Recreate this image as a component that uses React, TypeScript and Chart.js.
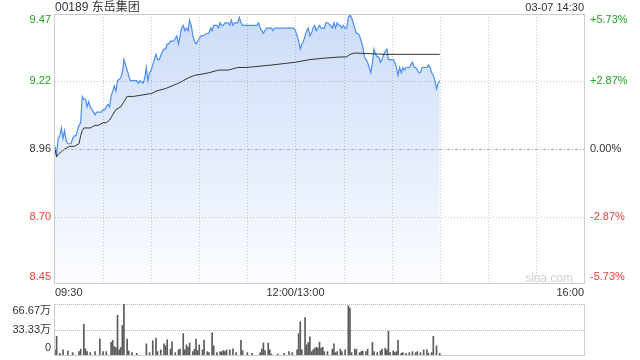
import React, { useEffect, useRef } from 'react';
import { Chart, registerables } from 'chart.js';

Chart.register(...registerables);

const TITLE = '00189 东岳集团';
const STAMP = '03-07 14:30';
const PREV_CLOSE = 8.96;
const TOTAL_MIN = 330;
const GRID_STEP_MIN = 30;

const priceMin = [0,1,2,3,4,5,6,7,8,9,10,11,12,13,15,16,17,18,19,20,21,22,23,24,25,26,28,29,30,31,32,33,34,35,36,37,38,39,41,42,43,44,45,46,47,49,51,52,53,55,56,57,58,59,60,61,62,63,64,65,67,68,69,70,71,72,73,74,75,76,77,78,79,80,81,82,83,84,85,86,87,88,89,90,91,92,95,96,97,98,99,100,101,102,103,104,105,106,107,108,109,110,111,112,113,114,115,116,117,125,126,127,128,129,130,131,132,135,136,137,149,150,151,152,153,154,155,156,157,158,159,160,161,162,163,164,165,166,167,168,169,170,172,173,174,175,176,177,178,179,180,181,182,183,184,185,186,187,188,189,190,191,192,193,194,195,196,197,198,199,200,201,202,203,204,205,206,207,208,209,210,211,212,213,214,215,216,217,218,219,220,221,222,223,224,225,226,227,228,229,230,231,232,233,234,235,236,237,238,239,240];
const priceVal = [8.97,8.94,9.00,9.01,9.04,9.00,9.03,8.99,8.98,8.98,8.98,9.00,9.01,9.01,9.05,9.06,9.16,9.15,9.15,9.12,9.14,9.12,9.11,9.10,9.09,9.10,9.10,9.10,9.11,9.11,9.12,9.13,9.12,9.16,9.18,9.20,9.18,9.22,9.23,9.25,9.30,9.28,9.26,9.24,9.22,9.22,9.22,9.21,9.22,9.21,9.23,9.27,9.22,9.25,9.26,9.28,9.30,9.32,9.30,9.30,9.33,9.34,9.34,9.36,9.36,9.37,9.37,9.37,9.38,9.39,9.36,9.39,9.42,9.43,9.41,9.42,9.41,9.45,9.43,9.39,9.37,9.36,9.37,9.38,9.39,9.39,9.40,9.40,9.42,9.41,9.43,9.43,9.43,9.42,9.44,9.43,9.43,9.44,9.44,9.44,9.43,9.45,9.43,9.44,9.44,9.44,9.46,9.44,9.43,9.43,9.43,9.44,9.42,9.41,9.40,9.41,9.42,9.42,9.41,9.42,9.42,9.41,9.39,9.37,9.34,9.36,9.37,9.39,9.41,9.42,9.39,9.40,9.42,9.43,9.41,9.42,9.43,9.42,9.42,9.42,9.44,9.44,9.43,9.42,9.44,9.42,9.44,9.43,9.43,9.42,9.43,9.42,9.42,9.46,9.47,9.46,9.44,9.42,9.40,9.40,9.39,9.37,9.35,9.31,9.30,9.29,9.27,9.25,9.29,9.34,9.32,9.31,9.31,9.29,9.30,9.32,9.33,9.34,9.30,9.30,9.30,9.30,9.29,9.27,9.24,9.27,9.25,9.27,9.26,9.27,9.27,9.27,9.28,9.29,9.27,9.27,9.26,9.25,9.25,9.27,9.27,9.27,9.27,9.28,9.27,9.25,9.24,9.22,9.19,9.21,9.22];

const avgMin = [0,1,2,4,6,9,12,15,16,17,18,22,25,27,30,32,34,36,38,41,43,45,49,59,60,63,69,73,77,80,83,87,92,96,102,108,114,119,128,136,150,159,167,178,182,184,187,206,227,240];
const avgVal = [8.96,8.93,8.94,8.95,8.96,8.97,8.97,8.98,9.01,9.03,9.04,9.04,9.05,9.05,9.06,9.06,9.07,9.09,9.11,9.12,9.14,9.16,9.16,9.17,9.17,9.18,9.19,9.20,9.21,9.22,9.23,9.24,9.245,9.25,9.26,9.26,9.27,9.27,9.275,9.28,9.29,9.30,9.305,9.31,9.31,9.32,9.325,9.32,9.32,9.32];

const volMin = [0,1,3,5,8,11,15,16,18,19,20,22,25,28,30,32,35,36,37,38,39,40,41,42,43,45,46,48,51,57,59,61,63,64,66,68,69,70,72,73,75,77,78,80,81,82,83,84,86,87,88,89,90,92,93,95,96,98,99,101,103,104,105,106,107,109,111,113,116,117,120,123,128,129,130,131,133,134,135,139,143,146,148,151,152,153,154,156,157,158,159,160,161,162,163,164,165,166,167,168,170,173,174,175,176,178,179,181,183,184,185,187,188,190,191,192,194,195,198,199,201,203,204,206,207,208,209,211,212,213,214,216,217,219,221,223,225,226,228,230,232,233,235,236,238,240];
const volVal = [6.7,24.4,2.2,6.7,5.3,3.1,4.4,7.6,40,8,4.4,3.1,4.4,21.3,4.4,4.4,16.4,19.1,11.1,9.8,52,6.7,9.8,38.7,66.7,20.9,5.3,3.1,2.2,14.7,3.1,18.7,22.2,4.4,6.7,14.7,12,20,7.6,17.3,3.1,6.7,7.6,28,6.7,13.3,10.2,15.6,4.4,7.6,20.9,5.8,13.3,6.7,19.6,4.4,3.1,28.9,12,3.1,4,4.4,5.8,4.4,6.7,6.7,8,3.1,19.1,5.8,3.1,2.2,3.1,7.6,15.6,5.8,15.6,6.7,1.3,1.3,2.2,4.4,3.1,6.7,28,43.6,6.7,48.9,13.3,16.4,23.6,4.4,6.7,8.9,10.2,8.9,16.9,8.9,10.2,4.4,4.4,7.6,14.7,3.1,4.4,7.6,4.4,6.7,64.4,61.3,3.1,7.6,7.6,3.1,4.4,5.3,4.4,7.6,16.4,4.4,3.1,5.3,7.6,8.9,6.7,31.1,3.1,5.3,3.1,4.4,19.1,2.2,3.1,2.2,3.1,4.4,3.1,4.4,3.1,6.7,6.7,2.2,3.1,24.4,12,2.2];

const pctTicks = [5.73, 2.87, 0, -2.87, -5.73];
const priceTickLabels = ['9.47', '9.22', '8.96', '8.70', '8.45'];
const pctTickLabels = ['+5.73%', '+2.87%', '0.00%', '-2.87%', '-5.73%'];
const timeTickMin = [0, 150, 330];
const timeTickLabels = ['09:30', '12:00/13:00', '16:00'];
const volTicks = [66.67, 33.33, 0];
const volTickLabels = ['66.67万', '33.33万', '0'];

const FONT = 'Arial, "Liberation Sans", sans-serif';
const GREEN = '#1fa51f';
const RED = '#f03c3c';
const DARK = '#333333';

function hline(ctx: CanvasRenderingContext2D, x1: number, x2: number, y: number) {
  const yy = Math.round(y) + 0.5;
  ctx.beginPath();
  ctx.moveTo(x1, yy);
  ctx.lineTo(x2, yy);
  ctx.stroke();
}
function vline(ctx: CanvasRenderingContext2D, x: number, y1: number, y2: number) {
  const xx = Math.round(x) + 0.5;
  ctx.beginPath();
  ctx.moveTo(xx, y1);
  ctx.lineTo(xx, y2);
  ctx.stroke();
}

const mainPlugin = {
  id: 'mainDeco',
  beforeDatasetsDraw(chart: any) {
    const { ctx, chartArea: a } = chart;
    const xs = chart.scales.x;
    const ys = chart.scales.y;
    ctx.save();
    ctx.lineWidth = 1;
    ctx.strokeStyle = '#c8c8c8';
    ctx.setLineDash([1, 2]);
    for (let m = GRID_STEP_MIN; m < TOTAL_MIN; m += GRID_STEP_MIN) {
      vline(ctx, xs.getPixelForValue(m), a.top, a.bottom);
    }
    pctTicks.forEach((p) => {
      if (Math.abs(p) === 5.73 || p === 0) return;
      hline(ctx, a.left, a.right, ys.getPixelForValue(PREV_CLOSE * (1 + p / 100)));
    });
    ctx.restore();
  },
  afterDatasetsDraw(chart: any) {
    const { ctx, chartArea: a } = chart;
    const ys = chart.scales.y;
    ctx.save();
    ctx.lineWidth = 1;
    ctx.strokeStyle = '#aaaaaa';
    ctx.setLineDash([3, 2, 1, 2]);
    hline(ctx, a.left, a.right, ys.getPixelForValue(PREV_CLOSE));
    ctx.setLineDash([]);
    ctx.strokeStyle = '#cccccc';
    ctx.strokeRect(Math.round(a.left) - 0.5, Math.round(a.top) + 0.5, Math.round(a.right - a.left) + 1, Math.round(a.bottom - a.top) - 1);
    ctx.restore();
  },
  afterDraw(chart: any) {
    const { ctx, chartArea: a } = chart;
    const xs = chart.scales.x;
    const ys = chart.scales.y;
    ctx.save();
    ctx.font = '12px ' + '"Liberation Sans", Arial, "Noto Sans CJK SC", sans-serif';
    ctx.fillStyle = DARK;
    ctx.textBaseline = 'middle';
    ctx.textAlign = 'left';
    ctx.fillText(TITLE, a.left, 7.5);
    ctx.font = '11px ' + FONT;
    ctx.textAlign = 'right';
    ctx.fillText(STAMP, a.right, 7.5);

    pctTicks.forEach((p, i) => {
      let y = ys.getPixelForValue(PREV_CLOSE * (1 + p / 100));
      if (i === 0) y += 6;
      if (i === pctTicks.length - 1) y -= 7;
      ctx.fillStyle = p > 0 ? GREEN : p < 0 ? RED : DARK;
      ctx.textAlign = 'right';
      ctx.fillText(priceTickLabels[i], a.left - 4, y);
      ctx.textAlign = 'left';
      ctx.fillText(pctTickLabels[i], a.right + 6, y);
    });

    ctx.fillStyle = DARK;
    timeTickMin.forEach((m, i) => {
      const x = xs.getPixelForValue(m);
      ctx.textAlign = i === 0 ? 'left' : i === timeTickMin.length - 1 ? 'right' : 'center';
      ctx.fillText(timeTickLabels[i], x, a.bottom + 9);
    });

    ctx.fillStyle = '#cfcfcf';
    ctx.font = '12px ' + FONT;
    ctx.textAlign = 'right';
    ctx.fillText('sina.com', a.right - 11, a.bottom - 5);
    ctx.restore();
  },
};

const volPlugin = {
  id: 'volDeco',
  beforeDatasetsDraw(chart: any) {
    const { ctx, chartArea: a } = chart;
    const ys = chart.scales.y;
    ctx.save();
    ctx.lineWidth = 1;
    ctx.strokeStyle = '#bbbbbb';
    ctx.setLineDash([1, 1]);
    hline(ctx, a.left, a.right, ys.getPixelForValue(volTicks[0]));
    hline(ctx, a.left, a.right, ys.getPixelForValue(volTicks[1]));
    ctx.setLineDash([]);
    ctx.strokeStyle = '#cccccc';
    vline(ctx, a.left - 1, a.top, a.bottom);
    vline(ctx, a.right, a.top, a.bottom);
    hline(ctx, a.left - 1, a.right + 1, a.bottom);
    ctx.restore();
  },
  afterDraw(chart: any) {
    const { ctx, chartArea: a } = chart;
    const ys = chart.scales.y;
    ctx.save();
    ctx.font = '11px ' + FONT + ', "Noto Sans CJK SC"';
    ctx.fillStyle = DARK;
    ctx.textBaseline = 'middle';
    ctx.textAlign = 'right';
    volTicks.forEach((v, i) => {
      let y = ys.getPixelForValue(v);
      if (i === 0) y += 7;
      if (i === volTicks.length - 1) y -= 7;
      ctx.fillText(volTickLabels[i], a.left - 4, y);
    });
    ctx.restore();
  },
};

export default function App() {
  const mainRef = useRef<HTMLCanvasElement>(null);
  const volRef = useRef<HTMLCanvasElement>(null);

  useEffect(() => {
    const yMin = PREV_CLOSE * (1 - 0.0573);
    const yMax = PREV_CLOSE * (1 + 0.0573);
    const main = new Chart(mainRef.current as HTMLCanvasElement, {
      type: 'line',
      data: {
        datasets: [
          {
            data: avgMin.map((m, i) => ({ x: m, y: avgVal[i] })),
            borderColor: '#333333',
            borderWidth: 1,
            pointRadius: 0,
            tension: 0,
            fill: false,
            order: 0,
          },
          {
            data: priceMin.map((m, i) => ({ x: m, y: priceVal[i] })),
            borderColor: '#4d8ef0',
            borderWidth: 1.2,
            pointRadius: 0,
            tension: 0,
            fill: 'start',
            order: 1,
            backgroundColor: (c: any) => {
              const a = c.chart.chartArea;
              if (!a) return 'rgba(70,130,230,0.15)';
              const g = c.chart.ctx.createLinearGradient(0, a.top, 0, a.bottom);
              g.addColorStop(0, 'rgba(70,130,230,0.28)');
              g.addColorStop(1, 'rgba(70,130,230,0.02)');
              return g;
            },
          },
        ],
      },
      options: {
        animation: false,
        responsive: false,
        devicePixelRatio: 1,
        layout: { padding: { left: 55, right: 56, top: 14, bottom: 16 } },
        plugins: { legend: { display: false }, tooltip: { enabled: false } },
        scales: {
          x: { type: 'linear', min: 0, max: TOTAL_MIN, display: false },
          y: { type: 'linear', min: yMin, max: yMax, display: false },
        },
      },
      plugins: [mainPlugin],
    } as any);

    const vol = new Chart(volRef.current as HTMLCanvasElement, {
      type: 'bar',
      data: {
        datasets: [
          {
            data: volMin.map((m, i) => ({ x: m, y: volVal[i] })),
            backgroundColor: '#5a5a5a',
            barThickness: 1,
          },
        ],
      },
      options: {
        animation: false,
        responsive: false,
        devicePixelRatio: 1,
        layout: { padding: { left: 55, right: 56, top: 4, bottom: 5 } },
        plugins: { legend: { display: false }, tooltip: { enabled: false } },
        scales: {
          x: { type: 'linear', min: 0, max: TOTAL_MIN, offset: false, display: false },
          y: { type: 'linear', min: 0, max: volTicks[0], display: false },
        },
      },
      plugins: [volPlugin],
    } as any);

    return () => {
      main.destroy();
      vol.destroy();
    };
  }, []);

  return (
    <div style={{ position: 'absolute', left: 0, top: 0, width: 640, height: 360, background: '#fff' }}>
      <canvas ref={mainRef} width={640} height={300} style={{ position: 'absolute', left: 0, top: 0 }} />
      <canvas ref={volRef} width={640} height={60} style={{ position: 'absolute', left: 0, top: 300 }} />
    </div>
  );
}
